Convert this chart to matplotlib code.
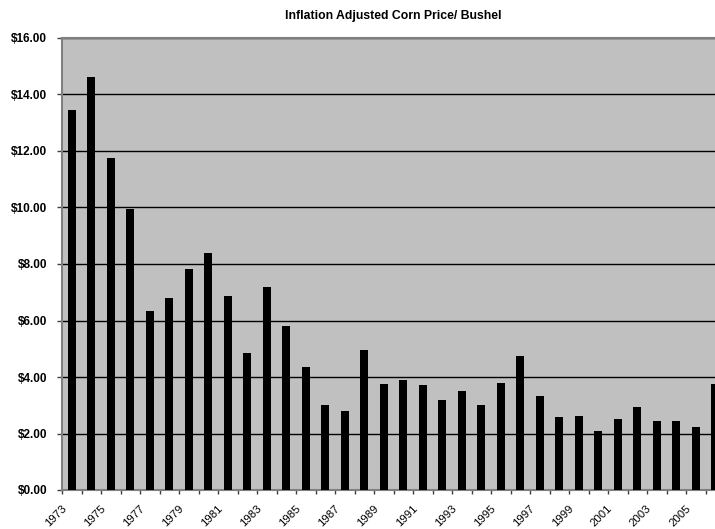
import matplotlib.pyplot as plt
import matplotlib.transforms as mtransforms
import numpy as np
from matplotlib.ticker import FixedLocator, FuncFormatter, NullFormatter

plt.rcParams["font.family"] = ["Liberation Sans", "DejaVu Sans"]

# corn price per bushel, inflation adjusted
years = list(range(1973, 2007))
prices = [
    13.45, 14.63, 11.75, 9.94, 6.33, 6.79, 7.81, 8.39, 6.88, 4.86,
    7.20, 5.81, 4.34, 3.00, 2.81, 4.96, 3.76, 3.89, 3.72, 3.17,
    3.52, 3.01, 3.78, 4.73, 3.34, 2.57, 2.61, 2.10, 2.50, 2.93,
    2.43, 2.43, 2.23, 3.75,
]
yticks = [0, 2, 4, 6, 8, 10, 12, 14, 16]

fig = plt.figure(figsize=(7.15, 5.29), dpi=100)
# plot area runs a little past the right edge of the image
ax = fig.add_axes([62 / 715, 39 / 529, 663 / 715, 452 / 529])
ax.set_facecolor("#c0c0c0")

x = np.arange(len(years))
ax.bar(x, prices, width=0.43, color="black", zorder=3)

ax.set_xlim(-0.5, len(years) - 0.5)
ax.set_ylim(0, 16)

ax.set_yticks(yticks)
ax.yaxis.set_major_formatter(FuncFormatter(lambda v, _: f"${v:.2f}"))
ax.tick_params(axis="y", direction="out", length=3.6, width=1, color="#404040",
               labelsize=8.5, pad=7)
for lbl in ax.get_yticklabels():
    lbl.set_fontweight("bold")
ax.grid(axis="y", color="black", linewidth=1, zorder=1)

# tick marks sit on the category boundaries
ax.xaxis.set_major_locator(FixedLocator(np.arange(len(years) + 1) - 0.5))
ax.xaxis.set_major_formatter(NullFormatter())
ax.tick_params(axis="x", which="major", direction="out", length=3, width=1,
               color="#404040")

# every other year is labelled, slanted, hanging left of its bar
offset = mtransforms.ScaledTranslation(-16 / 100, -13 / 100, fig.dpi_scale_trans)
for i in x[::2]:
    ax.text(i, 0, str(years[i]), transform=ax.get_xaxis_transform() + offset,
            rotation=45, ha="center", va="top", fontsize=8.2, clip_on=False)

for side in ["left", "bottom", "top", "right"]:
    ax.spines[side].set_color("#808080")
    ax.spines[side].set_linewidth(1.5)

ax.set_title("Inflation Adjusted Corn Price/ Bushel", fontsize=8.8,
             fontweight="bold", pad=14)

fig.savefig("out.png", dpi=100)
